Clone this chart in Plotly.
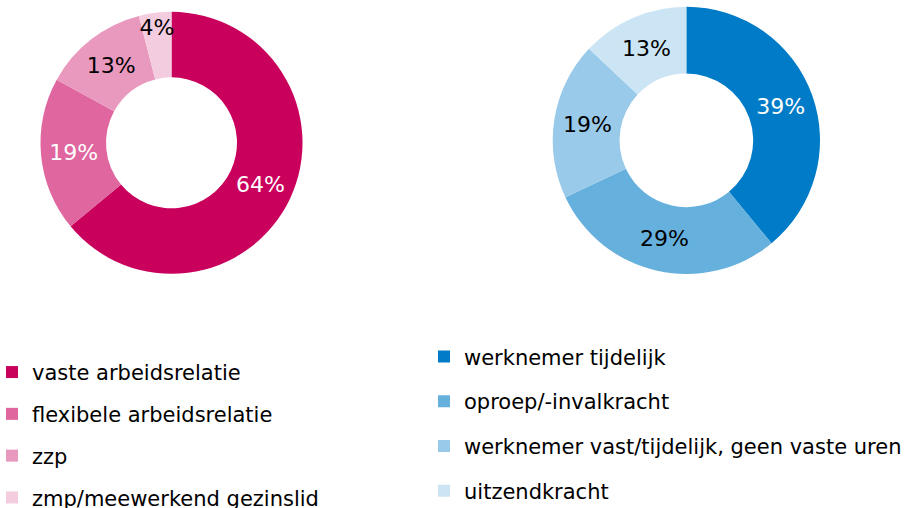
import plotly.graph_objects as go

# ---- data ----
left_labels = ["vaste arbeidsrelatie", "flexibele arbeidsrelatie", "zzp", "zmp/meewerkend gezinslid"]
left_values = [64, 19, 13, 4]
left_colors = ["#CA005D", "#DF669E", "#EA99BE", "#F4CCDF"]
left_text_colors = ["white", "white", "black", "black"]

right_labels = ["werknemer tijdelijk", "oproep/-invalkracht", "werknemer vast/tijdelijk, geen vaste uren", "uitzendkracht"]
right_values = [39, 29, 19, 13]
right_colors = ["#007BC7", "#66B0DD", "#99CAE9", "#CCE5F4"]
right_text_colors = ["white", "black", "black", "black"]

W, H = 924, 508
FONT = "DejaVu Sans"


def px_x(v):
    return v / W


def px_y(v):
    return 1 - v / H


fig = go.Figure()

fig.add_trace(go.Pie(
    labels=left_labels, values=left_values, sort=False, direction="clockwise", rotation=0,
    hole=0.5, marker=dict(colors=left_colors, line=dict(width=0)),
    texttemplate="%{value}%", textposition="inside", insidetextorientation="horizontal",
    textfont=dict(family=FONT, size=22, color=left_text_colors),
    domain=dict(x=[px_x(40.5), px_x(302.5)], y=[px_y(274), px_y(11.7)]),
    showlegend=False, hoverinfo="label+percent",
))

fig.add_trace(go.Pie(
    labels=right_labels, values=right_values, sort=False, direction="clockwise", rotation=0,
    hole=0.5, marker=dict(colors=right_colors, line=dict(width=0)),
    texttemplate="%{value}%", textposition="inside", insidetextorientation="horizontal",
    textfont=dict(family=FONT, size=22, color=right_text_colors),
    domain=dict(x=[px_x(552.7), px_x(820)], y=[px_y(274), px_y(6.7)]),
    showlegend=False, hoverinfo="label+percent",
))

# legend entries (one per category)
for lab, col in zip(left_labels, left_colors):
    fig.add_trace(go.Scatter(x=[None], y=[None], mode="markers", name=lab,
                             marker=dict(symbol="square", size=12, color=col),
                             legend="legend", legendgroup=lab, showlegend=True))
for lab, col in zip(right_labels, right_colors):
    fig.add_trace(go.Scatter(x=[None], y=[None], mode="markers", name=lab,
                             marker=dict(symbol="square", size=12, color=col),
                             legend="legend2", legendgroup=lab, showlegend=True))

fig.update_layout(
    width=W, height=H,
    margin=dict(l=0, r=0, t=0, b=0, autoexpand=False),
    paper_bgcolor="white", plot_bgcolor="white",
    font=dict(family=FONT, size=21, color="black"),
    uniformtext=dict(minsize=22, mode="show"),
    xaxis=dict(visible=False), yaxis=dict(visible=False),
    legend=dict(x=px_x(-8), y=px_y(351.9), xanchor="left", yanchor="top",
                font=dict(family=FONT, size=21, color="black"),
                tracegroupgap=11.5, bgcolor="rgba(0,0,0,0)", borderwidth=0),
    legend2=dict(x=px_x(424), y=px_y(336.3), xanchor="left", yanchor="top",
                 font=dict(family=FONT, size=21, color="black"),
                 tracegroupgap=14.5, bgcolor="rgba(0,0,0,0)", borderwidth=0),
)

fig.write_html("out.html", config={"displayModeBar": False},
               post_script="document.body.style.margin='0px';")
